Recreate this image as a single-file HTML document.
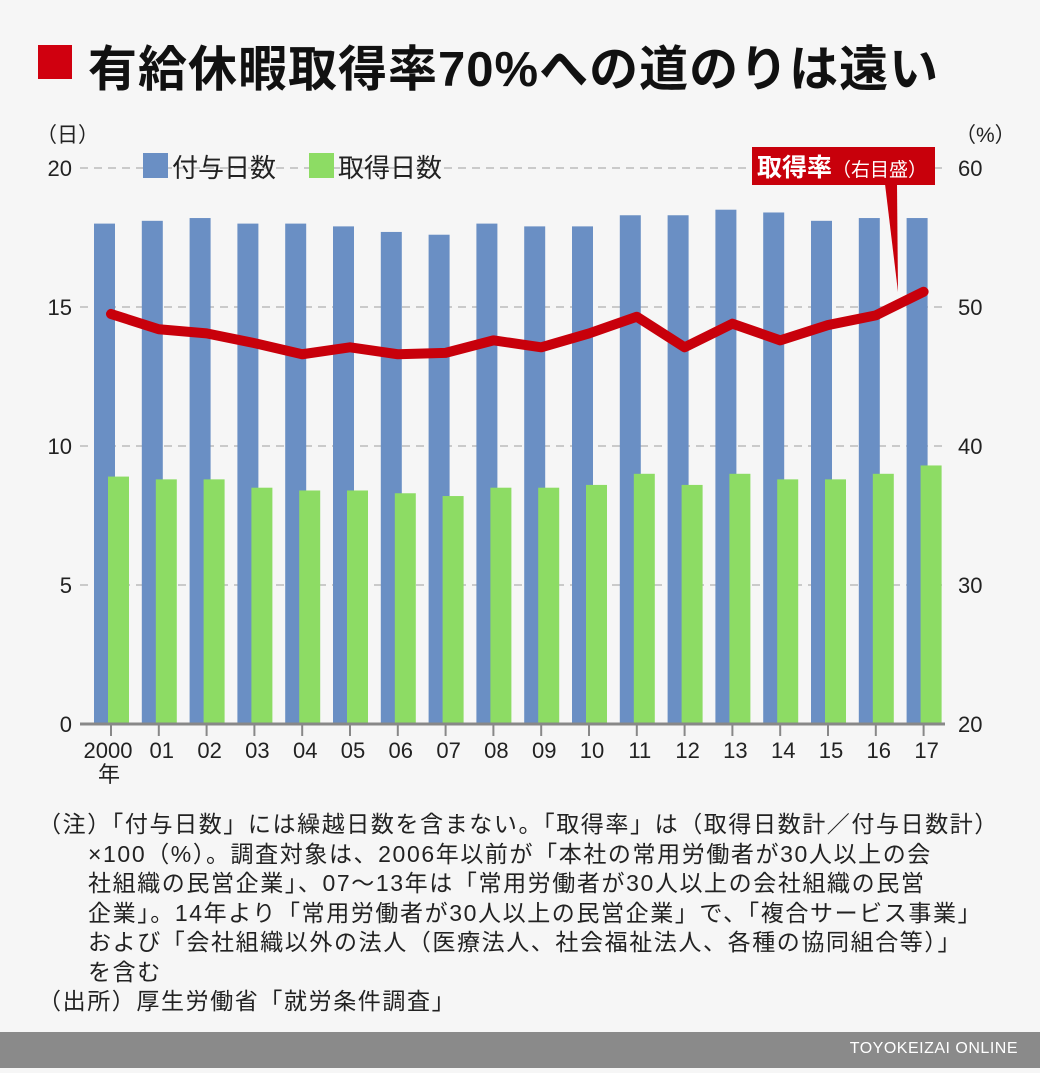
<!DOCTYPE html>
<html><head><meta charset="utf-8"><style>
body{margin:0;width:1040px;height:1073px;background:#f6f6f6;font-family:"Liberation Sans","Noto Sans CJK JP",sans-serif;overflow:hidden;position:relative}
.t{position:absolute;white-space:nowrap}
.n div{padding-left:50px}
</style></head><body>
<div style="position:absolute;left:38px;top:45px;width:34px;height:34px;background:#d0000f"></div>
<div class="t" style="left:88px;top:30px;font-size:49px;font-weight:bold;color:#111;letter-spacing:1px">有給休暇取得率70%への道のりは遠い</div>
<svg width="1040" height="1073" style="position:absolute;left:0;top:0" font-family="Liberation Sans,Noto Sans CJK JP,sans-serif">
<g stroke="#bbb" stroke-width="1.5" stroke-dasharray="8,6">
<line x1="80" y1="168" x2="945" y2="168"/><line x1="80" y1="307" x2="945" y2="307"/><line x1="80" y1="446" x2="945" y2="446"/><line x1="80" y1="585" x2="945" y2="585"/></g>
<g font-size="22" fill="#222" text-anchor="end">
<text x="72" y="176">20</text><text x="72" y="315">15</text><text x="72" y="454">10</text><text x="72" y="593">5</text><text x="72" y="732">0</text></g>
<g font-size="22" fill="#222">
<text x="958" y="176">60</text><text x="958" y="315">50</text><text x="958" y="454">40</text><text x="958" y="593">30</text><text x="958" y="732">20</text>
<text x="36" y="142" font-size="21">（日）</text><text x="955" y="142" font-size="21">（%）</text></g>
<rect x="143" y="153" width="25" height="25" fill="#6a8fc4"/>
<text x="172" y="177" font-size="26" fill="#222">付与日数</text>
<rect x="309" y="153" width="25" height="25" fill="#8ddc64"/>
<text x="338" y="177" font-size="26" fill="#222">取得日数</text>
<g id="bars"></g>
<line x1="80" y1="724" x2="945" y2="724" stroke="#888" stroke-width="3"/>
<g id="ticks" stroke="#888" stroke-width="2"></g>
<g id="lab" font-size="22" fill="#222" text-anchor="middle"></g>
<polyline id="ln" fill="none" stroke="#c8000b" stroke-width="10" stroke-linejoin="round" stroke-linecap="round"/>
<rect x="752" y="147" width="183" height="38" fill="#c8000b"/>
<polygon points="885,184 897,184 898,292" fill="#c8000b"/>
<text x="757" y="176" font-size="25" font-weight="bold" fill="#fff">取得率<tspan font-size="19" font-weight="normal">（右目盛）</tspan></text>
</svg>
<div class="t n" style="left:38px;top:810px;font-size:23px;line-height:29.5px;color:#222;letter-spacing:1.6px">（注）「付与日数」には繰越日数を含まない。「取得率」は（取得日数計／付与日数計）<div>×100（%）。調査対象は、2006年以前が「本社の常用労働者が30人以上の会</div><div>社組織の民営企業」、07〜13年は「常用労働者が30人以上の会社組織の民営</div><div>企業」。14年より「常用労働者が30人以上の民営企業」で、「複合サービス事業」</div><div>および「会社組織以外の法人（医療法人、社会福祉法人、各種の協同組合等）」</div><div>を含む</div>（出所）厚生労働省「就労条件調査」</div>
<div style="position:absolute;left:0;top:1032px;width:1040px;height:36px;background:#8a8a8a"></div>
<div class="t" style="right:22px;top:1040px;font-size:16px;color:#fff;letter-spacing:0.5px">TOYOKEIZAI ONLINE</div>
<script>
const b=[18.0,18.1,18.2,18.0,18.0,17.9,17.7,17.6,18.0,17.9,17.9,18.3,18.3,18.5,18.4,18.1,18.2,18.2];
const g=[8.9,8.8,8.8,8.5,8.4,8.4,8.3,8.2,8.5,8.5,8.6,9.0,8.6,9.0,8.8,8.8,9.0,9.3];
const r=[49.5,48.4,48.1,47.4,46.6,47.1,46.6,46.7,47.6,47.1,48.1,49.3,47.1,48.8,47.6,48.7,49.4,51.1];
const L=['2000','01','02','03','04','05','06','07','08','09','10','11','12','13','14','15','16','17'];
let bars='',ticks='',lab='',pts=[];
for(let i=0;i<18;i++){const c=111+47.8*i;
bars+=`<rect x="${c-17}" y="${724-b[i]*27.8}" width="21" height="${b[i]*27.8}" fill="#6a8fc4"/><rect x="${c-3}" y="${724-g[i]*27.8}" width="21" height="${g[i]*27.8}" fill="#8ddc64"/>`;
ticks+=`<line x1="${c}" y1="724" x2="${c}" y2="736"/>`;
lab+=`<text x="${i==0?c-3:c+3}" y="758">${L[i]}</text>`;
pts.push(c+','+(724-(r[i]-20)*13.9));}
lab+=`<text x="109" y="782">年</text>`;
document.getElementById('bars').innerHTML=bars;document.getElementById('ticks').innerHTML=ticks;document.getElementById('lab').innerHTML=lab;
document.getElementById('ln').setAttribute('points',pts.join(' '));
</script>
</body></html>
